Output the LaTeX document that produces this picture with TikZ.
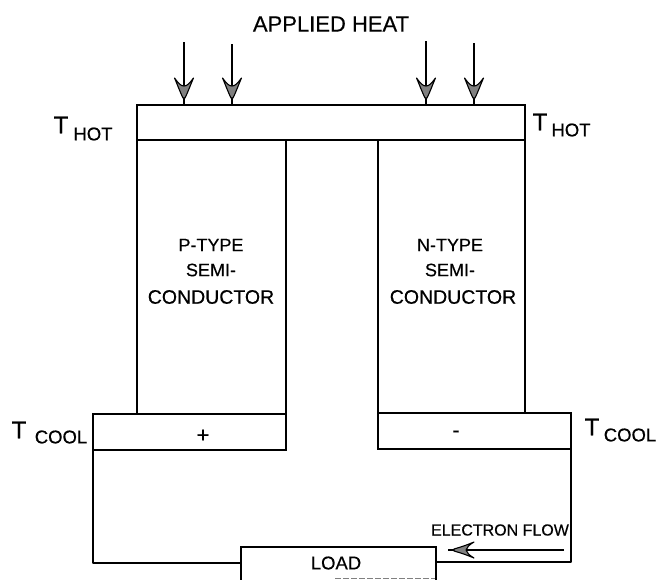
\documentclass[tikz,border=0pt]{standalone}
\usepackage{fontspec}
\setmainfont{Liberation Sans}
\newfontfamily\inkfont[FakeBold=0.4]{Liberation Sans}
\usetikzlibrary{arrows.meta}
\tikzset{
  x=1pt,y=-1pt,
  boxn/.style={draw,line width=1.5pt,minimum width=0pt,minimum height=0pt,inner sep=0pt,anchor=north west},
  wire/.style={line width=1.5pt,line join=round},
  shaft/.style={line width=1.4pt},
  headv/.style={draw=black,fill=gray,line width=1.1pt,line join=round},
  lab/.style={inner sep=0pt,font=\inkfont\fontsize{18}{18}\selectfont},
  labw/.style={inner sep=0pt,font=\inkfont\fontsize{19.5}{19.5}\selectfont},
  big/.style={inner sep=0pt,font=\inkfont\fontsize{22}{22}\selectfont},
  tee/.style={inner sep=0pt,font=\inkfont\fontsize{24}{24}\selectfont},
  sub/.style={inner sep=0pt,font=\inkfont\fontsize{18.5}{18.5}\selectfont},
  small/.style={inner sep=0pt,font=\inkfont\fontsize{16}{16}\selectfont},
}
\begin{document}
\begin{tikzpicture}
\useasboundingbox (0,0) rectangle (658,579);
\fill[white] (0,0) rectangle (658,579);
% boxes
\node[boxn,minimum width=388pt,minimum height=35pt] (hot) at (136,104) {};
\node[boxn,minimum width=149pt,minimum height=274pt] (ptype) at (136,139) {};
\node[boxn,minimum width=147pt,minimum height=273pt] (ntype) at (377,139) {};
\node[boxn,minimum width=193pt,minimum height=36pt] (coolp) at (92,413) {};
\node[boxn,minimum width=193pt,minimum height=36pt] (cooln) at (377,412) {};
\node[boxn,minimum width=195pt,minimum height=40pt] (load) at (240,546) {};
% wires
\coordinate (ll) at (240,563);
\coordinate (lc) at (93,563);
\coordinate (rl) at (435,562);
\coordinate (rc) at (571,562);
\coordinate (pb) at (93,449);
\coordinate (nb) at (571,448);
\draw[wire] (pb) -- (lc) -- (ll);
\draw[wire] (nb) -- (rc) -- (rl);
% faint lower edge of the load box
\coordinate (lb1) at (335,578);
\coordinate (lb2) at (435,578);
\draw[line width=.8pt,gray,dash pattern=on 6pt off 2pt] (lb1) -- (lb2);
% heat arrows
\foreach \n/\xx/\yy in {a/184/42,b/232/44,c/426/41,d/474/43}{
  \coordinate (\n1) at (\xx,\yy);
  \coordinate (\n2) at (\xx,104);
  \draw[shaft] (\n1) -- (\n2);
  \draw[headv] (\xx-9.5,78) .. controls (\xx-6,86) and (\xx-4,92) .. (\xx-1,98)
     -- (\xx+1,98) .. controls (\xx+4,92) and (\xx+6,86) .. (\xx+9.5,78)
     .. controls (\xx+5,84) and (\xx+3,86) .. (\xx,86)
     .. controls (\xx-3,86) and (\xx-5,84) .. cycle;
}
% electron flow arrow
\coordinate (e1) at (564,550);
\coordinate (e2) at (448,550);
\draw[shaft] (e1) -- (e2);
\draw[headv] (474,542) .. controls (467,545) and (461,547) .. (454,549)
   -- (454,551) .. controls (461,553) and (467,555) .. (474,558)
   .. controls (469,555) and (467,553) .. (466,550)
   .. controls (467,547) and (469,545) .. cycle;
% labels
\node[big] (title) at (331,24) {APPLIED HEAT};
\node[lab] (p1) at (211,245) {P-TYPE};
\node[lab] (p2) at (211,270) {SEMI-};
\node[labw] (p3) at (211,297) {CONDUCTOR};
\node[lab] (n1) at (450,245) {N-TYPE};
\node[lab] (n2) at (450,270) {SEMI-};
\node[labw] (n3) at (453,297) {CONDUCTOR};
\node[tee] (t1) at (61,125) {T};
\node[sub] (h1) at (93,134) {HOT};
\node[tee] (t2) at (540,122) {T};
\node[sub] (h2) at (571,130) {HOT};
\node[tee] (t3) at (19,430) {T};
\node[sub] (c1) at (61,437) {COOL};
\node[tee] (t4) at (592,427) {T};
\node[sub] (c2) at (630,435) {COOL};
\node[big] (plus) at (203,436) {+};
\node[big] (minus) at (456,434) {-};
\node[small] (ef) at (500,530) {ELECTRON FLOW};
\node[sub] (lt) at (336,563) {LOAD};
\end{tikzpicture}
\end{document}
